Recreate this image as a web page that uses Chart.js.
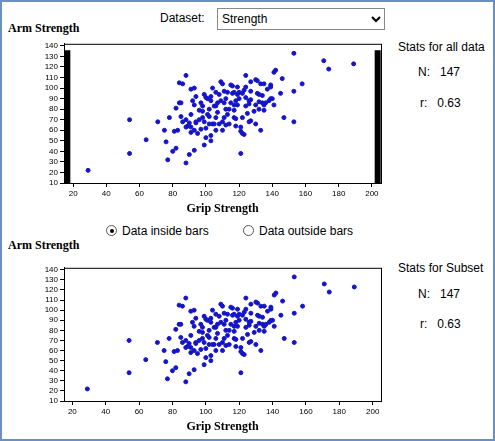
<!DOCTYPE html>
<html><head><meta charset="utf-8">
<script src="https://cdn.jsdelivr.net/npm/chart.js@4"></script>
<style>
body{margin:0;width:495px;height:441px;background:#fff;font-family:"Liberation Sans",Arial,sans-serif;font-size:12px;position:relative;overflow:hidden}
.frame{position:absolute;left:0;top:0;width:491px;height:437px;border:2px solid #6a8fc0}
.t{position:absolute;white-space:nowrap}
.ser{font-family:"Liberation Serif",serif;font-weight:bold;font-size:12px}
select{position:absolute;left:217px;top:8px;width:168px;height:22px;font-size:12px;font-family:inherit;background:#fff;border:1px solid #888}
.radio{display:inline-block;width:9px;height:9px;border:1px solid #555;border-radius:50%;vertical-align:-1px;margin-right:5px;position:relative}
.radio.on:after{content:"";position:absolute;left:2.5px;top:2.5px;width:4px;height:4px;border-radius:50%;background:#000}
canvas{position:absolute}
</style></head><body>
<div class="frame"></div>
<div class="t" style="left:160px;top:11px">Dataset:</div>
<select><option>Strength</option></select>
<div class="t ser" style="left:8px;top:21px">Arm Strength</div>
<div class="t" style="left:398px;top:40px">Stats for all data</div>
<div class="t" style="left:418px;top:65px">N:&nbsp;&nbsp;&nbsp;147</div>
<div class="t" style="left:420px;top:96px">r:&nbsp;&nbsp;&nbsp;0.63</div>
<div class="t" style="left:106px;top:224px"><span class="radio on"></span>Data inside bars</div>
<div class="t" style="left:243px;top:224px"><span class="radio"></span>Data outside bars</div>
<div class="t ser" style="left:8px;top:238px">Arm Strength</div>
<div class="t" style="left:398px;top:261px">Stats for Subset</div>
<div class="t" style="left:418px;top:287px">N:&nbsp;&nbsp;&nbsp;147</div>
<div class="t" style="left:420px;top:317px">r:&nbsp;&nbsp;&nbsp;0.63</div>
<canvas id="c1" style="left:30px;top:37px" width="356" height="179"></canvas>
<canvas id="c2" style="left:30px;top:261px" width="356" height="173"></canvas>
<script>
// Grip strength / arm strength pairs
const grip = [29,54,54,64,71,75,76,77,78,80,82,81,83,82,84,85,86,88,86,88,90,88,90,91,91,91,92,93,93,94,94,94,93,93,97,98,98,99,98,100,100,99,102,103,103,102,103,103,104,105,105,106,106,106,108,109,110,109,111,111,113,112,111,
153,171,174,189,141,142,146,158,153,145,147,153,121,133,124,127,130,131,133,135,139,139,137,115,116,119,124,123,116,117,119,120,122,127,131,132,134,124,126,127,126,124,130,129,132,134,135,136,138,139,140,141,135,132,115,117,119,114,117,118,122,127,126,130,118,121,121,122,123,114,
84,96,101,107,110,112,88,95,100,106,97,89,104,108,112,113,110,101,96,85,91,117,120,125,99,102,118,107];
const arm = [22,70,38,51,68,60,49,32,72,40,43,59,60,81,86,86,104,112,68,29,37,63,67,63,75,99,88,84,100,92,68,67,41,60,61,72,83,94,78,91,53,46,66,55,50,80,88,92,66,66,83,72,96,83,66,106,104,88,86,97,96,65,72,
133,126,118,123,115,117,109,104,97,95,72,68,38,60,112,106,108,107,104,104,103,101,99,103,102,101,101,98,95,96,94,96,95,97,95,94,93,91,88,89,85,83,84,78,87,86,84,86,88,90,90,84,79,80,86,84,84,80,72,71,72,69,68,66,64,63,59,57,56,66,
105,70,75,77,60,80,70,57,62,60,86,64,100,94,90,75,68,90,79,73,58,79,90,76,68,73,88,86];
const xTicks = [20,40,60,80,100,120,140,160,180,200];
const yTicks = [10,20,30,40,50,60,70,80,90,100,110,120,130,140];
const barLow = 16.5, barHigh = 203.5;

const pts = grip.map((g, i) => ({x: g, y: arm[i]}));

const boxPlugin = {
  id: 'box',
  afterDraw(c) {
    const a = c.chartArea, ctx = c.ctx;
    ctx.save(); ctx.strokeStyle = '#000'; ctx.lineWidth = 1;
    ctx.strokeRect(a.left + 0.5, a.top + 0.5, a.right - a.left, a.bottom - a.top);
    ctx.restore();
  }
};

function makeChart(id, withBars, xmin, xmax) {
  const sets = [{
    data: pts, backgroundColor: '#1414c8', borderColor: '#1414c8',
    pointRadius: 2, pointStyle: 'circle'
  }];
  if (withBars) {
    [barLow, barHigh].forEach(b => sets.push({
      type: 'line', data: [{x: b, y: 10}, {x: b, y: 136}],
      borderColor: '#000', borderWidth: 6, pointRadius: 0
    }));
  }
  new Chart(document.getElementById(id), {
    type: 'scatter',
    data: {datasets: sets},
    plugins: [boxPlugin],
    options: {
      responsive: false, animation: false,
      layout: {padding: {top: 2, right: 5, left: 0, bottom: 0}},
      plugins: {legend: {display: false}, tooltip: {enabled: false}},
      scales: {
        x: {
          type: 'linear', min: xmin, max: xmax,
          afterBuildTicks: s => { s.ticks = xTicks.map(v => ({value: v})); },
          ticks: {color: '#000', font: {size: 8, family: 'Liberation Sans'}, padding: 2, autoSkip: false, maxRotation: 0},
          grid: {drawOnChartArea: false, color: '#000', tickLength: 4},
          border: {color: '#000'},
          title: {display: true, text: 'Grip Strength', color: '#000', padding: {top: 1, bottom: 0},
                  font: {family: 'Liberation Serif', weight: 'bold', size: 12}}
        },
        y: {
          min: 10, max: 142,
          afterBuildTicks: s => { s.ticks = yTicks.map(v => ({value: v})); },
          afterFit: s => { s.width = 34; },
          ticks: {color: '#000', font: {size: 8, family: 'Liberation Sans'}, padding: 2, autoSkip: false},
          grid: {drawOnChartArea: false, color: '#000', tickLength: 4},
          border: {color: '#000'}
        }
      }
    }
  });
}
makeChart('c1', true, 14.5, 205.5);
makeChart('c2', false, 15, 205);
</script>
</body></html>
